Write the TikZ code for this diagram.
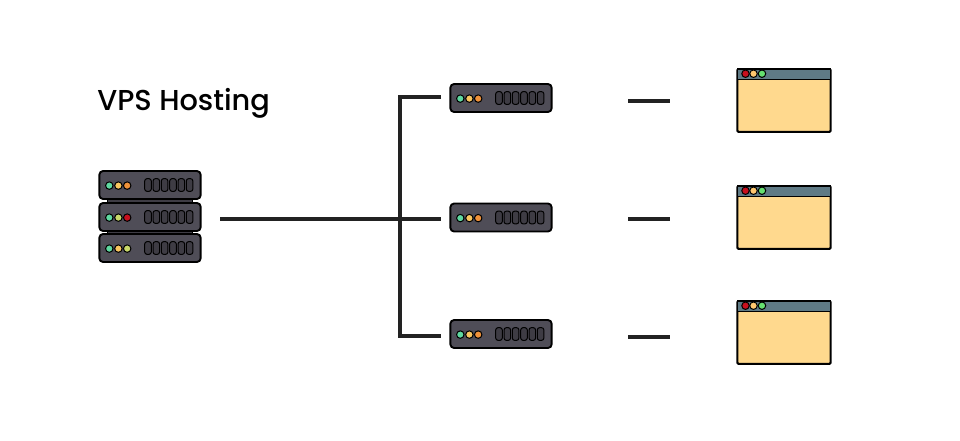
\documentclass[tikz,border=0pt]{standalone}
\usepackage{fontspec}
\newfontfamily\titlefont{Poppins Medium}
\definecolor{srvbody}{HTML}{4F4D57}
\definecolor{srvslot}{HTML}{3E3C44}
\definecolor{ledgreen}{HTML}{5FD8A0}
\definecolor{ledyellow}{HTML}{F9C660}
\definecolor{ledorange}{HTML}{F0923A}
\definecolor{ledred}{HTML}{C8101E}
\definecolor{ledlime}{HTML}{C9D96A}
\definecolor{winbar}{HTML}{5F7A85}
\definecolor{winbody}{HTML}{FFD98E}
\definecolor{winred}{HTML}{C8101E}
\definecolor{winyellow}{HTML}{FFC870}
\definecolor{wingreen}{HTML}{66E070}
\definecolor{wire}{HTML}{222222}
\tikzset{
  srvbox/.style={draw=black,line width=1.4pt,fill=srvbody,rounded corners=2.8pt,minimum width=76pt,minimum height=21pt,inner sep=0pt,outer sep=0pt},
  srvlink/.style={draw=black,line width=.7pt,fill=srvslot,minimum width=64pt,minimum height=4pt,inner sep=0pt},
  led/.style={circle,draw=black,line width=.75pt,minimum size=5.6pt,inner sep=0pt},
  slotbox/.style={draw=black,line width=.75pt,fill=srvslot,rounded corners=1.7pt,minimum width=4.9pt,minimum height=9.5pt,inner sep=0pt},
  winframe/.style={draw=black,line width=1.6pt,fill=winbody,rounded corners=.9pt,minimum width=70pt,minimum height=47pt,inner sep=0pt,outer sep=0pt},
  wintitle/.style={draw=black,line width=1.2pt,fill=winbar,minimum width=70pt,minimum height=7.8pt,inner sep=0pt,outer sep=0pt},
  winled/.style={circle,draw=black,line width=.75pt,minimum size=5.6pt,inner sep=0pt},
  wireline/.style={draw=wire,line width=2.6pt},
  titletext/.style={font=\titlefont\fontsize{21.6}{25}\selectfont,text=black,inner sep=0pt,anchor=west}
}
\newcommand{\srvunit}[6]{%
  \node[srvbox] (#1) at (#2,#3) {};
  \node[led,fill=#4] (#1a) at (#2-40.7,#3+0.6) {};
  \node[led,fill=#5] (#1b) at (#2-31.6,#3+0.6) {};
  \node[led,fill=#6] (#1c) at (#2-22.8,#3+0.6) {};
  \foreach \k/\o in {1/-2,2/6.3,3/14.6,4/23,5/31.3,6/39.6}{
    \node[slotbox] (#1s\k) at (#2+\o,#3) {};
  }%
}
\newcommand{\webwin}[2]{%
  \node[winframe] (#1) at (784,#2) {};
  \node[wintitle,anchor=north] (#1t) at (#1.north) {};
  \node[winled,fill=winred] (#1a) at (745.5,#2-26.8) {};
  \node[winled,fill=winyellow] (#1b) at (753.5,#2-26.8) {};
  \node[winled,fill=wingreen] (#1c) at (762,#2-26.8) {};
}
\begin{document}
\begin{tikzpicture}[x=.75pt,y=-.75pt]
\useasboundingbox (0,0) rectangle (960,440);
\node[titletext] (title) at (97,103.5) {VPS Hosting};
% rack
\node[srvlink] (linkA) at (150,201) {};
\node[srvlink] (linkB) at (150,232.5) {};
\srvunit{rackA}{150}{185}{ledgreen}{ledyellow}{ledorange}
\srvunit{rackB}{150}{217}{ledgreen}{ledlime}{ledred}
\srvunit{rackC}{150}{248}{ledgreen}{ledyellow}{ledlime}
% single servers
\srvunit{srvA}{501}{98}{ledgreen}{ledyellow}{ledorange}
\srvunit{srvB}{501}{217.5}{ledgreen}{ledyellow}{ledorange}
\srvunit{srvC}{501}{334}{ledgreen}{ledyellow}{ledorange}
% windows
\webwin{winA}{100.5}
\webwin{winB}{217.5}
\webwin{winC}{332.5}
% connector ends
\coordinate (mainStart) at (220,219);
\coordinate (hub) at (400,219);
\coordinate (topEnd) at (441,97);
\coordinate (midEnd) at (441,219);
\coordinate (botEnd) at (441,336);
\coordinate (dashAs) at (628,101);
\coordinate (dashAe) at (670,101);
\coordinate (dashBs) at (628,219);
\coordinate (dashBe) at (670,219);
\coordinate (dashCs) at (628,337);
\coordinate (dashCe) at (670,337);
\draw[wireline] (mainStart) -- (midEnd);
\draw[wireline,line join=miter] (topEnd) -- (hub |- topEnd) -- (hub |- botEnd) -- (botEnd);
\draw[wireline] (dashAs) -- (dashAe);
\draw[wireline] (dashBs) -- (dashBe);
\draw[wireline] (dashCs) -- (dashCe);
\end{tikzpicture}
\end{document}
